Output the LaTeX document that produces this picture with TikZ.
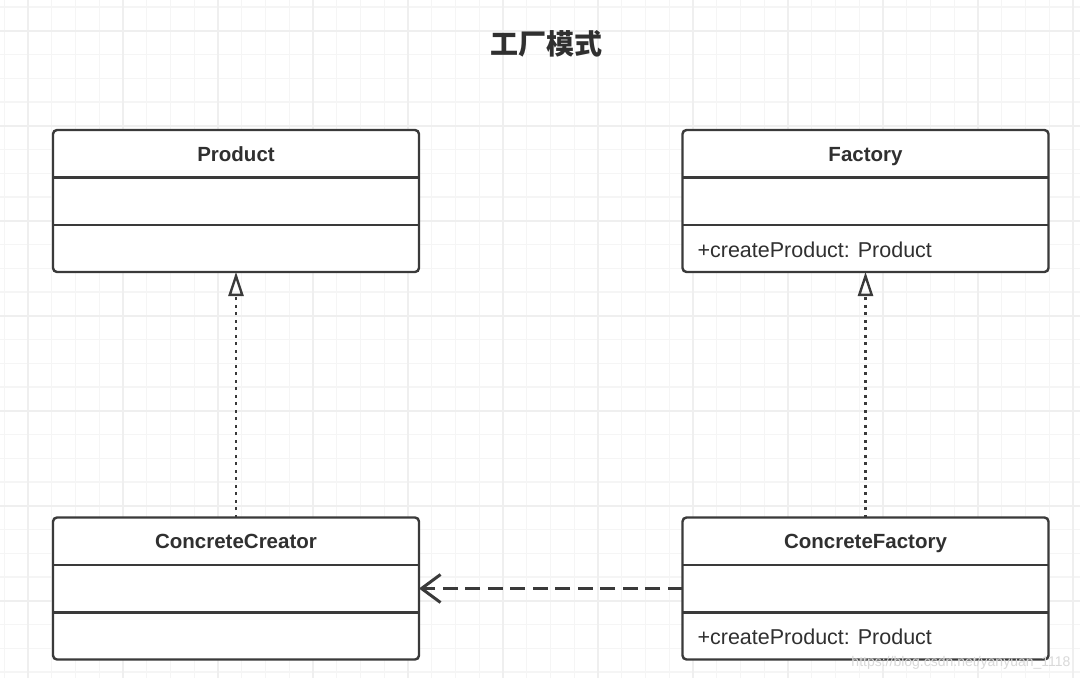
\documentclass[tikz,border=0pt]{standalone}
\usepackage{fontspec}
\setmainfont{Liberation Sans}
\newfontfamily\cjk{Noto Sans CJK SC}
\usetikzlibrary{arrows.meta,positioning,calc}
\definecolor{umlline}{RGB}{58,58,58}
\definecolor{umltext}{RGB}{48,48,48}
\definecolor{gridlight}{RGB}{245,245,245}
\definecolor{griddark}{RGB}{239,239,239}

\begin{document}
\begin{tikzpicture}[x=1pt, y=-1pt,
		gridminor/.style={draw=gridlight, line width=1.3pt},
		gridmajor/.style={draw=griddark, line width=1.4pt},
		classbox/.style={draw=umlline, line width=2.4pt, rounded corners=4pt, fill=white, rectangle, minimum width=366pt, minimum height=142pt, outer sep=0pt},
		classname/.style={font=\fontsize{20.5}{24}\selectfont\bfseries, text=umltext, text height=15pt, text depth=4.5pt},
		method/.style={font=\fontsize{21.5}{25}\selectfont, text=umltext, anchor=west, text height=15.5pt, text depth=4.5pt},
		divider/.style={draw=umlline, line width=2.4pt},
		realize/.style={draw=umlline, line width=2.6pt, dash pattern=on 2.6pt off 4.9pt, -{Triangle[open, length=24pt, width=15pt, line width=2.4pt]}},
		depend/.style={draw=umlline, line width=3pt, dash pattern=on 15pt off 7.5pt, -{Straight Barb[length=19pt, width=28pt, line width=3pt]}}]
	% background and grid
	\useasboundingbox (0,0) rectangle (1080,678);
	\fill[white] (0,0) rectangle (1080,678);
	\foreach \k in {0,...,45}
		\draw[gridminor] ({4.25+23.75*\k},0) -- ({4.25+23.75*\k},678);
	\foreach \k in {0,...,28}
		\draw[gridminor] (0,{7+23.75*\k}) -- (1080,{7+23.75*\k});
	\foreach \j in {0,...,11}
		\draw[gridmajor] ({28+95*\j},0) -- ({28+95*\j},678);
	\foreach \j in {0,...,6}
		\draw[gridmajor] (0,{31+95*\j}) -- (1080,{31+95*\j});

	\node[font=\cjk\fontsize{28}{32}\selectfont\bfseries, text=umltext] (title) at (546,44) {工厂模式};

	% classes
	\node[classbox] (product) at (236,201) {};
	\node[classbox] (factory) at (865.5,201) {};
	\node[classbox] (creator) at (236,588.5) {};
	\node[classbox] (concretefactory) at (865.5,588.5) {};

	\foreach \c in {product,factory,creator,concretefactory} {
		\draw[divider] ($(\c.north west)+(0,47.5)$) -- ($(\c.north east)+(0,47.5)$);
		\draw[divider] ($(\c.north west)+(0,95)$) -- ($(\c.north east)+(0,95)$);
	}

	\node[classname] (productname) at ($(product.north)+(0,26)$) {Product};
	\node[classname] (factoryname) at ($(factory.north)+(0,26)$) {Factory};
	\node[classname] (creatorname) at ($(creator.north)+(0,26)$) {ConcreteCreator};
	\node[classname] (concretefactoryname) at ($(concretefactory.north)+(0,26)$) {ConcreteFactory};

	\node[method] (factorymethod) at ($(factory.south west)+(11.5,-20.5)$) {+createProduct: Product};
	\node[method] (concretefactorymethod) at ($(concretefactory.south west)+(11.5,-20.5)$) {+createProduct: Product};

	% relations
	\draw[realize] (creator) -- (product);
	\draw[realize] (concretefactory) -- (factory);
	\draw[depend] (concretefactory) -- (creator);

	\node[font=\fontsize{14}{16}\selectfont, text=gray!30, anchor=east] (watermark) at (1074,663) {https://blog.csdn.net/yanyuan\_1118};
\end{tikzpicture}
\end{document}
